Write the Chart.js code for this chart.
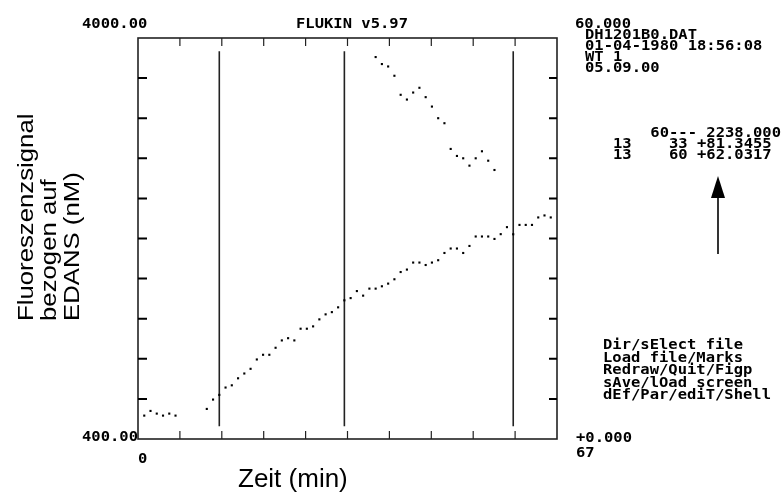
<!DOCTYPE html>
<html>
<head>
<meta charset="utf-8">
<script src="https://cdn.jsdelivr.net/npm/chart.js"></script>
<title>FLUKIN v5.97</title>
<style>
    html, body { margin: 0; padding: 0; background: #fff; }
    #chart { display: block; }
</style>
</head>
<body>
<canvas id="chart" width="782" height="493"></canvas>
<script>
    // channel 1: signal (nM) per minute, left scale
    var minutes = [1, 2, 3, 4, 5, 6,
        11, 12, 13, 14, 15, 16, 17, 18, 19, 20, 21, 22, 23, 24, 25, 26, 27, 28, 29, 30,
        31, 32, 33, 34, 35, 36, 37, 38, 39, 40, 41, 42, 43, 44, 45, 46, 47, 48, 49, 50,
        51, 52, 53, 54, 55, 56, 57, 58, 59, 60, 61, 62, 63, 64, 65, 66];
    var signal = [610, 652, 628, 610, 628, 610,
        670, 754, 796, 862, 882, 945, 988, 1030, 1114, 1156, 1156, 1219, 1285, 1305, 1285, 1390, 1390, 1411, 1474, 1519,
        1539, 1582, 1645, 1665, 1728, 1687, 1750, 1750, 1771, 1795, 1834, 1899, 1921, 1984, 1984, 1962, 1984, 2005, 2070, 2110,
        2110, 2070, 2133, 2218, 2218, 2218, 2196, 2239, 2302, 2238, 2322, 2322, 2322, 2389, 2407, 2389];

    // channel 2: per minute, right scale
    var minutes2 = [38, 39, 40, 41, 42, 43, 44, 45, 46, 47, 48, 49, 50, 51, 52, 53, 54, 55, 56, 57];
    var signal2 = [57.15, 56.1, 55.74, 54.35, 51.5, 50.79, 51.84, 52.55, 51.15, 49.74,
        48.0, 47.25, 43.4, 42.35, 42.0, 40.9, 42.0, 43.05, 41.64, 40.25];

    // marker positions (min) and their vertical extent on the left scale
    var marks = [13, 33, 60];
    var markSpan = [515, 3880];

    var xRange = [0, 67];
    var yRange = [400, 4000];
    var y2Range = [0, 60];
    var tickCount = 10;

    var headerLines = ['DH1201B0.DAT', '01-04-1980 18:56:08', 'WT 1', '05.09.00'];
    var resultLines = ['    60--- 2238.000', '13    33 +81.3455', '13    60 +62.0317'];
    var menuLines = ['Dir/sElect file', 'Load file/Marks', 'Redraw/Quit/Figp', 'sAve/lOad screen', 'dEf/Par/ediT/Shell'];
    var yTitle = ['Fluoreszenzsignal', 'bezogen auf', 'EDANS (nM)'];
    var xTitle = 'Zeit (min)';

    function toPoints(xs, ys) {
        return xs.map((x, i) => ({ x: x, y: ys[i] }));
    }

    var MONO = 'bold 15.5px "DejaVu Sans Mono"';

    function mono(ctx, str, x, y) {
        ctx.save();
        ctx.translate(x, y);
        ctx.scale(1, 0.95);
        ctx.font = MONO;
        ctx.fillText(str, 0, 0);
        ctx.restore();
    }

    // marker lines behind the points
    var markerPlugin = {
        id: 'markers',
        beforeDatasetsDraw(chart) {
            var ctx = chart.ctx, xs = chart.scales.x, ys = chart.scales.y;
            ctx.save();
            ctx.strokeStyle = '#222';
            ctx.lineWidth = 1.6;
            marks.forEach(m => {
                var px = xs.getPixelForValue(m);
                ctx.beginPath();
                ctx.moveTo(px, ys.getPixelForValue(markSpan[0]));
                ctx.lineTo(px, ys.getPixelForValue(markSpan[1]));
                ctx.stroke();
            });
            ctx.restore();
        }
    };

    // frame, inward ticks and all the screen text
    var framePlugin = {
        id: 'frame',
        afterDraw(chart) {
            var ctx = chart.ctx, a = chart.chartArea;
            var xs = chart.scales.x, ys = chart.scales.y;
            ctx.save();

            ctx.strokeStyle = '#222';
            ctx.lineWidth = 1.6;
            ctx.strokeRect(a.left, a.top, a.right - a.left, a.bottom - a.top);

            var i;
            // top / bottom ticks
            ctx.lineWidth = 1.2;
            for (i = 1; i < tickCount; i++) {
                var px = xs.getPixelForValue(xRange[0] + (xRange[1] - xRange[0]) * i / tickCount);
                ctx.beginPath();
                ctx.moveTo(px, a.top); ctx.lineTo(px, a.top + 8);
                ctx.moveTo(px, a.bottom); ctx.lineTo(px, a.bottom - 8);
                ctx.stroke();
            }
            // left / right ticks
            ctx.strokeStyle = '#000';
            ctx.lineWidth = 2;
            for (i = 1; i < tickCount; i++) {
                var py = ys.getPixelForValue(yRange[0] + (yRange[1] - yRange[0]) * i / tickCount);
                ctx.beginPath();
                ctx.moveTo(a.left, py); ctx.lineTo(a.left + 9, py);
                ctx.moveTo(a.right, py); ctx.lineTo(a.right - 8, py);
                ctx.stroke();
            }

            ctx.fillStyle = '#000';
            ctx.textBaseline = 'alphabetic';
            ctx.textAlign = 'left';

            mono(ctx, yRange[1].toFixed(2), 82, 28);
            mono(ctx, yRange[0].toFixed(2), 82, 441);
            mono(ctx, 'FLUKIN v5.97', 296, 28);
            mono(ctx, y2Range[1].toFixed(3), 575, 27.5);
            mono(ctx, '+' + y2Range[0].toFixed(3), 576, 442);
            mono(ctx, String(xRange[0]), 138, 463);
            mono(ctx, String(xRange[1]), 576, 457);

            var hy = [38.5, 50, 61, 72];
            headerLines.forEach((s, k) => mono(ctx, s, 585, hy[k]));
            resultLines.forEach((s, k) => mono(ctx, s, 613, 137 + k * 11.2));
            menuLines.forEach((s, k) => mono(ctx, s, 603, 349 + k * 12.5));

            // arrow under the results
            ctx.strokeStyle = '#000';
            ctx.lineWidth = 1.6;
            ctx.beginPath();
            ctx.moveTo(718, 196); ctx.lineTo(718, 254);
            ctx.stroke();
            ctx.beginPath();
            ctx.moveTo(718, 176); ctx.lineTo(725, 198); ctx.lineTo(711, 198);
            ctx.closePath();
            ctx.fill();

            // axis titles
            ctx.font = '22px "Liberation Sans", Arial, sans-serif';
            var cols = [33, 56, 79];
            yTitle.forEach((s, k) => {
                ctx.save();
                ctx.translate(cols[k], 321);
                ctx.rotate(-Math.PI / 2);
                ctx.scale(1.17, 1);
                ctx.fillText(s, 0, 0);
                ctx.restore();
            });
            ctx.font = '26px "Liberation Sans", Arial, sans-serif';
            ctx.fillText(xTitle, 238, 487);

            ctx.restore();
        }
    };

    var chart = new Chart(document.getElementById('chart'), {
        type: 'scatter',
        data: {
            datasets: [{
                data: toPoints(minutes, signal),
                yAxisID: 'y',
                pointStyle: 'rect',
                pointRadius: 1.5,
                backgroundColor: '#000',
                borderWidth: 0
            }, {
                data: toPoints(minutes2, signal2),
                yAxisID: 'y2',
                pointStyle: 'rect',
                pointRadius: 1.5,
                backgroundColor: '#000',
                borderWidth: 0
            }]
        },
        options: {
            responsive: false,
            animation: false,
            devicePixelRatio: 1,
            layout: { padding: { left: 138, right: 225, top: 38, bottom: 54 } },
            plugins: {
                legend: { display: false },
                tooltip: { enabled: false }
            },
            scales: {
                x: { type: 'linear', min: xRange[0], max: xRange[1], display: false },
                y: { type: 'linear', min: yRange[0], max: yRange[1], display: false },
                y2: { type: 'linear', position: 'right', min: y2Range[0], max: y2Range[1], display: false }
            }
        },
        plugins: [markerPlugin, framePlugin]
    });
</script>
</body>
</html>
